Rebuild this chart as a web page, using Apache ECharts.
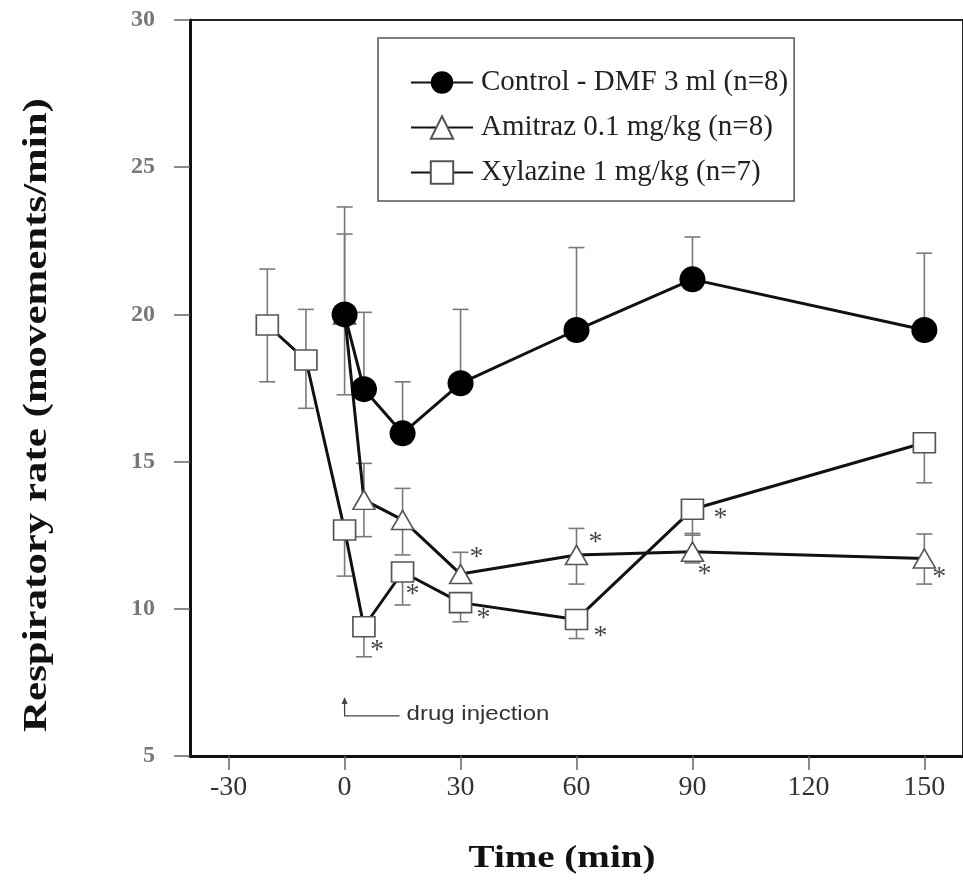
<!DOCTYPE html>
<html>
<head>
<meta charset="utf-8">
<title>Respiratory rate</title>
<script src="https://cdn.jsdelivr.net/npm/echarts@6/dist/echarts.min.js"></script>
<style>
  html, body { margin: 0; padding: 0; background: #fff; }
  #chart { width: 963px; height: 896px; }
</style>
</head>
<body>
<div id="chart"></div>
<script>
// time after injection (min)
var controlTime = [0, 5, 15, 30, 60, 90, 150]
var amitrazTime = [0, 5, 15, 30, 60, 90, 150]
var xylazineTime = [-20, -10, 0, 5, 15, 30, 60, 90, 150]

// respiratory rate (movements/min), mean and error bar ends (null = no bar)
var controlMean = [20.0, 17.46, 15.96, 17.66, 19.47, 21.19, 19.47]
var controlHigh = [22.73, 20.07, 17.71, 20.17, 22.27, 22.63, 22.08]
var controlLow = [17.27, null, null, null, null, null, null]

var amitrazMean = [20.0, 13.7, 13.02, 11.18, 11.83, 11.94, 11.71]
var amitrazHigh = [23.65, 14.94, 14.09, 11.92, 12.73, 12.56, 12.54]
var amitrazLow = [null, 12.45, 11.83, null, 10.84, 11.56, 10.84]

var xylazineMean = [19.64, 18.45, 12.68, 9.39, 11.25, 10.21, 9.64, 13.38, 15.64]
var xylazineHigh = [21.54, 20.17, null, null, null, null, null, null, null]
var xylazineLow = [17.71, 16.81, 11.11, 8.37, 10.13, 9.56, 8.99, 12.5, 14.28]

// significant difference marks (*)
var amitrazSig = [false, false, false, true, true, true, true]
var xylazineSig = [false, false, false, true, true, true, true, true, false]

var seriesNames = ['Control - DMF 3 ml (n=8)', 'Amitraz 0.1 mg/kg (n=8)', 'Xylazine 1 mg/kg (n=7)']
var xTicks = [-30, 0, 30, 60, 90, 120, 150]

// where each * sits next to its point (px)
var amitrazStarOffset = [null, null, null, [16, -16], [19, -12], [12, 23], [15, 19]]
var xylazineStarOffset = [null, null, null, [13, 24], [10, 23], [23, 16], [24, 17], [28, 9], null]

function toPoints(t, m) {
  return t.map(function(x, i) { return [x, m[i]] })
}

function toBars(t, m, lo, hi) {
  return t.map(function(x, i) { return [x, m[i], lo[i], hi[i]] })
}

function toStars(t, m, sig, off) {
  var out = []
  t.forEach(function(x, i) {
    if (sig[i]) {
      out.push({ value: [x, m[i]], label: { offset: off[i] } })
    }
  })
  return out
}

function renderBar(params, api) {
  var x = api.value(0)
  var mean = api.value(1)
  var lo = api.value(2)
  var hi = api.value(3)
  var p = api.coord([x, mean])
  var cap = 8
  var style = { stroke: '#7a7a7a', lineWidth: 1.6 }
  var children = []
  ;[lo, hi].forEach(function(v) {
    if (v == null || isNaN(v)) return
    var q = api.coord([x, v])
    children.push({ type: 'line', shape: { x1: p[0], y1: p[1], x2: q[0], y2: q[1] }, style: style })
    children.push({ type: 'line', shape: { x1: q[0] - cap, y1: q[1], x2: q[0] + cap, y2: q[1] }, style: style })
  })
  return { type: 'group', children: children }
}

var serif = 'Liberation Serif'

var chart = echarts.init(document.getElementById('chart'))

var option = {
  animation: false,
  backgroundColor: '#fff',
  grid: {
    show: true,
    left: 190,
    right: -7,
    top: 20,
    bottom: 140,
    borderColor: '#222',
    borderWidth: 2,
    backgroundColor: 'transparent'
  },
  legend: {
    data: seriesNames,
    orient: 'vertical',
    left: 378,
    top: 38,
    padding: [30, 6, 14, 32],
    itemWidth: 62,
    itemHeight: 28,
    itemGap: 16,
    borderColor: '#555',
    borderWidth: 1.5,
    textStyle: {
      fontFamily: serif,
      fontSize: 29,
      color: '#222',
      padding: [0, 0, 0, 3]
    }
  },
  xAxis: {
    type: 'value',
    min: -40,
    max: 160,
    splitLine: { show: false },
    axisLine: { onZero: false, lineStyle: { color: '#111', width: 3 } },
    axisTick: {
      show: true,
      customValues: xTicks,
      length: 14,
      lineStyle: { color: '#666', width: 1.5 }
    },
    axisLabel: {
      customValues: xTicks,
      margin: 18,
      fontFamily: serif,
      fontSize: 28,
      color: '#333'
    }
  },
  yAxis: {
    type: 'value',
    min: 5,
    max: 30,
    interval: 5,
    splitLine: { show: false },
    axisLine: { show: true, onZero: false, lineStyle: { color: '#111', width: 3 } },
    axisTick: {
      show: true,
      length: 16,
      lineStyle: { color: '#666', width: 1.5 }
    },
    axisLabel: {
      margin: 35,
      fontFamily: serif,
      fontSize: 24,
      fontWeight: 'bold',
      color: '#777'
    }
  },
  series: [
    {
      type: 'custom',
      name: 'errControl',
      renderItem: renderBar,
      data: toBars(controlTime, controlMean, controlLow, controlHigh),
      z: 1
    },
    {
      type: 'custom',
      name: 'errAmitraz',
      renderItem: renderBar,
      data: toBars(amitrazTime, amitrazMean, amitrazLow, amitrazHigh),
      z: 1
    },
    {
      type: 'custom',
      name: 'errXylazine',
      renderItem: renderBar,
      data: toBars(xylazineTime, xylazineMean, xylazineLow, xylazineHigh),
      z: 1
    },
    {
      type: 'line',
      name: seriesNames[2],
      data: toPoints(xylazineTime, xylazineMean),
      symbol: 'rect',
      symbolSize: [22, 20],
      showAllSymbol: true,
      lineStyle: { color: '#111', width: 3 },
      itemStyle: { color: '#fff', borderColor: '#555', borderWidth: 1.6 },
      z: 3
    },
    {
      type: 'line',
      name: seriesNames[1],
      data: toPoints(amitrazTime, amitrazMean),
      symbol: 'triangle',
      symbolSize: [22, 19],
      showAllSymbol: true,
      lineStyle: { color: '#111', width: 3 },
      itemStyle: { color: '#fff', borderColor: '#555', borderWidth: 1.6 },
      z: 4
    },
    {
      type: 'line',
      name: seriesNames[0],
      data: toPoints(controlTime, controlMean),
      symbol: 'circle',
      symbolSize: 26,
      showAllSymbol: true,
      lineStyle: { color: '#111', width: 3 },
      itemStyle: { color: '#000' },
      z: 5
    },
    {
      type: 'scatter',
      name: 'sig',
      symbolSize: 0,
      silent: true,
      data: toStars(amitrazTime, amitrazMean, amitrazSig, amitrazStarOffset)
        .concat(toStars(xylazineTime, xylazineMean, xylazineSig, xylazineStarOffset)),
      label: {
        show: true,
        position: 'inside',
        formatter: '*',
        fontFamily: serif,
        fontSize: 28,
        color: '#111'
      },
      z: 6
    }
  ]
}

chart.setOption(option)

// axis titles and the "drug injection" marker at time 0
var tip = chart.convertToPixel({ gridIndex: 0 }, [0, 7.0])
var foot = chart.convertToPixel({ gridIndex: 0 }, [0, 6.36])
chart.setOption({
  graphic: [
    {
      id: 'yTitle',
      type: 'text',
      x: 37,
      y: 415,
      rotation: Math.PI / 2,
      scaleX: 1.3,
      style: {
        text: 'Respiratory rate (movements/min)',
        font: 'bold 33px "Liberation Serif"',
        fill: '#111',
        align: 'center',
        verticalAlign: 'middle'
      }
    },
    {
      id: 'xTitle',
      type: 'text',
      x: 562,
      y: 859,
      scaleX: 1.22,
      style: {
        text: 'Time (min)',
        font: 'bold 32px "Liberation Serif"',
        fill: '#111',
        align: 'center',
        verticalAlign: 'middle'
      }
    },
    {
      id: 'injLine',
      type: 'polyline',
      shape: { points: [[tip[0], tip[1] + 2], [foot[0], foot[1]], [foot[0] + 55, foot[1]]] },
      style: { stroke: '#444', lineWidth: 1.3, fill: null }
    },
    {
      id: 'injHead',
      type: 'polygon',
      shape: { points: [[tip[0], tip[1]], [tip[0] - 3, tip[1] + 7], [tip[0] + 3, tip[1] + 7]] },
      style: { fill: '#444' }
    },
    {
      id: 'injText',
      type: 'text',
      x: foot[0] + 62,
      y: foot[1] - 1,
      scaleX: 1.2,
      style: {
        text: 'drug injection',
        font: '20px "Liberation Sans"',
        fill: '#333',
        verticalAlign: 'middle'
      }
    }
  ]
})
</script>
</body>
</html>
